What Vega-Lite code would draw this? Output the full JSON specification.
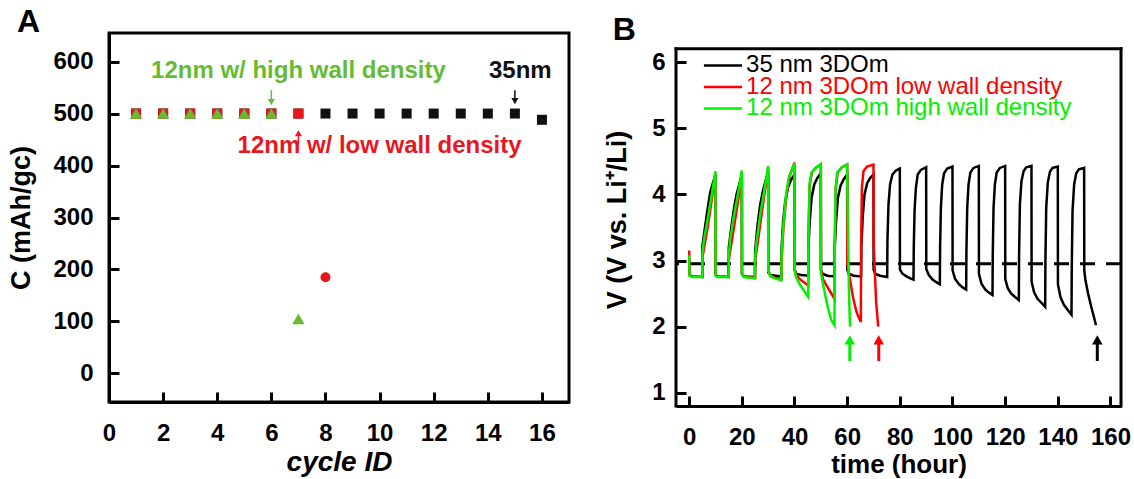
{
  "$schema": "https://vega.github.io/schema/vega-lite/v6.json",
  "padding": {"left": 6, "top": 4, "right": 4, "bottom": 2},
  "background": "white",
  "config": {
    "font": "Liberation Sans",
    "view": {"stroke": "#000", "strokeWidth": 3},
    "axis": {"domainColor": "#000", "domainWidth": 3, "tickColor": "#000", "tickWidth": 3, "labelFont": "Liberation Sans", "labelFontSize": 24, "labelFontWeight": "bold", "labelColor": "#000", "titleFont": "Liberation Sans", "titleFontWeight": "bold", "titleColor": "#000", "grid": false, "labelOverlap": false, "labelFlush": false, "labelBound": false},
    "title": {"font": "Liberation Sans", "fontWeight": "bold", "color": "#000", "fontSize": 32, "anchor": "start", "frame": "bounds"}
  },
  "datasets": {
    "cap": [
      {"sample": "35nm", "cycle": 1, "C": 500}, {"sample": "35nm", "cycle": 2, "C": 500}, {"sample": "35nm", "cycle": 3, "C": 500}, {"sample": "35nm", "cycle": 4, "C": 500},
      {"sample": "35nm", "cycle": 5, "C": 500}, {"sample": "35nm", "cycle": 6, "C": 500}, {"sample": "35nm", "cycle": 7, "C": 500}, {"sample": "35nm", "cycle": 8, "C": 500},
      {"sample": "35nm", "cycle": 9, "C": 500}, {"sample": "35nm", "cycle": 10, "C": 500}, {"sample": "35nm", "cycle": 11, "C": 500}, {"sample": "35nm", "cycle": 12, "C": 500},
      {"sample": "35nm", "cycle": 13, "C": 500}, {"sample": "35nm", "cycle": 14, "C": 500}, {"sample": "35nm", "cycle": 15, "C": 500}, {"sample": "35nm", "cycle": 16, "C": 488},
      {"sample": "12nm w/ low wall density", "cycle": 1, "C": 500}, {"sample": "12nm w/ low wall density", "cycle": 2, "C": 500}, {"sample": "12nm w/ low wall density", "cycle": 3, "C": 500},
      {"sample": "12nm w/ low wall density", "cycle": 4, "C": 500}, {"sample": "12nm w/ low wall density", "cycle": 5, "C": 500}, {"sample": "12nm w/ low wall density", "cycle": 6, "C": 500},
      {"sample": "12nm w/ low wall density", "cycle": 7, "C": 500}, {"sample": "12nm w/ low wall density", "cycle": 8, "C": 185},
      {"sample": "12nm w/ high wall density", "cycle": 1, "C": 500}, {"sample": "12nm w/ high wall density", "cycle": 2, "C": 500}, {"sample": "12nm w/ high wall density", "cycle": 3, "C": 500},
      {"sample": "12nm w/ high wall density", "cycle": 4, "C": 500}, {"sample": "12nm w/ high wall density", "cycle": 5, "C": 500}, {"sample": "12nm w/ high wall density", "cycle": 6, "C": 500},
      {"sample": "12nm w/ high wall density", "cycle": 7, "C": 105}
    ],
    "capArrows": [
      {"sample": "12nm w/ high wall density", "cycle": 6, "from": 545, "to": 522},
      {"sample": "35nm", "cycle": 15, "from": 545, "to": 524},
      {"sample": "12nm w/ low wall density", "cycle": 7, "from": 440, "to": 462}
    ],
    "capText": [
      {"sample": "12nm w/ high wall density", "cycle": 7.0, "C": 582, "label": "12nm w/ high wall density"},
      {"sample": "35nm", "cycle": 15.2, "C": 582, "label": "35nm"},
      {"sample": "12nm w/ low wall density", "cycle": 10.0, "C": 438, "label": "12nm w/ low wall density"}
    ],
    "ref": [{"V": 2.95}],
    "frameB": [
      {"x1": -5, "x2": 164, "y1": 6.2, "y2": 6.2},
      {"x1": 164, "x2": 164, "y1": 0.8, "y2": 6.2},
      {"x1": -5, "x2": -5, "y1": 0.8, "y2": 6.2}
    ],
    "legendB": [
      {"s": "35 nm 3DOm", "x1": 5.6, "x2": 20.1, "xt": 21.6, "V": 5.95},
      {"s": "12 nm 3DOm low wall density", "x1": 5.6, "x2": 20.1, "xt": 21.6, "V": 5.625},
      {"s": "12 nm 3DOm high wall density", "x1": 5.6, "x2": 20.1, "xt": 21.6, "V": 5.3}
    ],
    "voltArrows": [
      {"s": "12 nm 3DOm high wall density", "t": 61, "from": 1.48, "to": 1.8},
      {"s": "12 nm 3DOm low wall density", "t": 72, "from": 1.48, "to": 1.8},
      {"s": "35 nm 3DOm", "t": 155, "from": 1.48, "to": 1.8}
    ],
    "volt": [
      {"s": "35 nm 3DOm", "t": 0, "V": 3.0}, {"s": "35 nm 3DOm", "t": 0.15, "V": 2.78}, {"s": "35 nm 3DOm", "t": 1, "V": 2.76}, {"s": "35 nm 3DOm", "t": 5, "V": 2.75},
      {"s": "35 nm 3DOm", "t": 5.05, "V": 3.22}, {"s": "35 nm 3DOm", "t": 6, "V": 3.5}, {"s": "35 nm 3DOm", "t": 7, "V": 3.78}, {"s": "35 nm 3DOm", "t": 8, "V": 4.03}, {"s": "35 nm 3DOm", "t": 9, "V": 4.17}, {"s": "35 nm 3DOm", "t": 10, "V": 4.3},
      {"s": "35 nm 3DOm", "t": 10.05, "V": 2.8}, {"s": "35 nm 3DOm", "t": 10.5, "V": 2.76}, {"s": "35 nm 3DOm", "t": 15, "V": 2.75},
      {"s": "35 nm 3DOm", "t": 15.05, "V": 3.2}, {"s": "35 nm 3DOm", "t": 16, "V": 3.5}, {"s": "35 nm 3DOm", "t": 17, "V": 3.78}, {"s": "35 nm 3DOm", "t": 18, "V": 4.0}, {"s": "35 nm 3DOm", "t": 19, "V": 4.15}, {"s": "35 nm 3DOm", "t": 20, "V": 4.3},
      {"s": "35 nm 3DOm", "t": 20.05, "V": 2.8}, {"s": "35 nm 3DOm", "t": 20.6, "V": 2.76}, {"s": "35 nm 3DOm", "t": 25, "V": 2.75},
      {"s": "35 nm 3DOm", "t": 25.05, "V": 3.15}, {"s": "35 nm 3DOm", "t": 26, "V": 3.55}, {"s": "35 nm 3DOm", "t": 27, "V": 3.85}, {"s": "35 nm 3DOm", "t": 28, "V": 4.05}, {"s": "35 nm 3DOm", "t": 29, "V": 4.2}, {"s": "35 nm 3DOm", "t": 30, "V": 4.32},
      {"s": "35 nm 3DOm", "t": 30.05, "V": 2.82}, {"s": "35 nm 3DOm", "t": 31, "V": 2.78}, {"s": "35 nm 3DOm", "t": 35, "V": 2.76},
      {"s": "35 nm 3DOm", "t": 35.1, "V": 3.2}, {"s": "35 nm 3DOm", "t": 35.7, "V": 3.6}, {"s": "35 nm 3DOm", "t": 36.5, "V": 3.9}, {"s": "35 nm 3DOm", "t": 37.5, "V": 4.1}, {"s": "35 nm 3DOm", "t": 38.7, "V": 4.22}, {"s": "35 nm 3DOm", "t": 40, "V": 4.3},
      {"s": "35 nm 3DOm", "t": 40.05, "V": 2.86}, {"s": "35 nm 3DOm", "t": 40.6, "V": 2.8}, {"s": "35 nm 3DOm", "t": 42.5, "V": 2.78}, {"s": "35 nm 3DOm", "t": 45.2, "V": 2.77},
      {"s": "35 nm 3DOm", "t": 45.3, "V": 3.2}, {"s": "35 nm 3DOm", "t": 45.8, "V": 3.6}, {"s": "35 nm 3DOm", "t": 46.5, "V": 3.95}, {"s": "35 nm 3DOm", "t": 47.5, "V": 4.15}, {"s": "35 nm 3DOm", "t": 48.7, "V": 4.25}, {"s": "35 nm 3DOm", "t": 50, "V": 4.32},
      {"s": "35 nm 3DOm", "t": 50.05, "V": 2.86}, {"s": "35 nm 3DOm", "t": 50.6, "V": 2.8}, {"s": "35 nm 3DOm", "t": 52.5, "V": 2.77}, {"s": "35 nm 3DOm", "t": 55.2, "V": 2.76},
      {"s": "35 nm 3DOm", "t": 55.3, "V": 3.2}, {"s": "35 nm 3DOm", "t": 55.8, "V": 3.6}, {"s": "35 nm 3DOm", "t": 56.5, "V": 3.95}, {"s": "35 nm 3DOm", "t": 57.5, "V": 4.13}, {"s": "35 nm 3DOm", "t": 58.7, "V": 4.23}, {"s": "35 nm 3DOm", "t": 60, "V": 4.3},
      {"s": "35 nm 3DOm", "t": 60.05, "V": 2.86}, {"s": "35 nm 3DOm", "t": 60.6, "V": 2.8}, {"s": "35 nm 3DOm", "t": 62.5, "V": 2.77}, {"s": "35 nm 3DOm", "t": 65.3, "V": 2.76},
      {"s": "35 nm 3DOm", "t": 65.4, "V": 3.2}, {"s": "35 nm 3DOm", "t": 65.9, "V": 3.65}, {"s": "35 nm 3DOm", "t": 66.6, "V": 4.0}, {"s": "35 nm 3DOm", "t": 67.6, "V": 4.17}, {"s": "35 nm 3DOm", "t": 68.8, "V": 4.25}, {"s": "35 nm 3DOm", "t": 70, "V": 4.3},
      {"s": "35 nm 3DOm", "t": 70.05, "V": 2.86}, {"s": "35 nm 3DOm", "t": 70.6, "V": 2.8}, {"s": "35 nm 3DOm", "t": 72.5, "V": 2.77}, {"s": "35 nm 3DOm", "t": 75.2, "V": 2.75},
      {"s": "35 nm 3DOm", "t": 75.3, "V": 3.3}, {"s": "35 nm 3DOm", "t": 75.7, "V": 3.85}, {"s": "35 nm 3DOm", "t": 76.3, "V": 4.15}, {"s": "35 nm 3DOm", "t": 77.2, "V": 4.3}, {"s": "35 nm 3DOm", "t": 78.5, "V": 4.36}, {"s": "35 nm 3DOm", "t": 80, "V": 4.39},
      {"s": "35 nm 3DOm", "t": 80.05, "V": 2.86}, {"s": "35 nm 3DOm", "t": 81, "V": 2.8}, {"s": "35 nm 3DOm", "t": 82.5, "V": 2.76}, {"s": "35 nm 3DOm", "t": 84, "V": 2.73}, {"s": "35 nm 3DOm", "t": 85.2, "V": 2.71},
      {"s": "35 nm 3DOm", "t": 85.3, "V": 3.2}, {"s": "35 nm 3DOm", "t": 85.6, "V": 3.75}, {"s": "35 nm 3DOm", "t": 86.1, "V": 4.1}, {"s": "35 nm 3DOm", "t": 86.8, "V": 4.3}, {"s": "35 nm 3DOm", "t": 88, "V": 4.37}, {"s": "35 nm 3DOm", "t": 90, "V": 4.41},
      {"s": "35 nm 3DOm", "t": 90.05, "V": 2.87}, {"s": "35 nm 3DOm", "t": 91, "V": 2.78}, {"s": "35 nm 3DOm", "t": 92.5, "V": 2.71}, {"s": "35 nm 3DOm", "t": 94, "V": 2.67}, {"s": "35 nm 3DOm", "t": 95.2, "V": 2.64},
      {"s": "35 nm 3DOm", "t": 95.3, "V": 3.2}, {"s": "35 nm 3DOm", "t": 95.6, "V": 3.8}, {"s": "35 nm 3DOm", "t": 96.1, "V": 4.15}, {"s": "35 nm 3DOm", "t": 96.8, "V": 4.32}, {"s": "35 nm 3DOm", "t": 98, "V": 4.39}, {"s": "35 nm 3DOm", "t": 100, "V": 4.42},
      {"s": "35 nm 3DOm", "t": 100.05, "V": 2.85}, {"s": "35 nm 3DOm", "t": 101, "V": 2.72}, {"s": "35 nm 3DOm", "t": 102.5, "V": 2.64}, {"s": "35 nm 3DOm", "t": 104, "V": 2.59}, {"s": "35 nm 3DOm", "t": 105.2, "V": 2.56},
      {"s": "35 nm 3DOm", "t": 105.3, "V": 3.15}, {"s": "35 nm 3DOm", "t": 105.6, "V": 3.8}, {"s": "35 nm 3DOm", "t": 106.1, "V": 4.15}, {"s": "35 nm 3DOm", "t": 106.8, "V": 4.33}, {"s": "35 nm 3DOm", "t": 108, "V": 4.4}, {"s": "35 nm 3DOm", "t": 110, "V": 4.43},
      {"s": "35 nm 3DOm", "t": 110.05, "V": 2.8}, {"s": "35 nm 3DOm", "t": 111, "V": 2.65}, {"s": "35 nm 3DOm", "t": 112.5, "V": 2.56}, {"s": "35 nm 3DOm", "t": 114, "V": 2.51}, {"s": "35 nm 3DOm", "t": 115.2, "V": 2.48},
      {"s": "35 nm 3DOm", "t": 115.3, "V": 3.1}, {"s": "35 nm 3DOm", "t": 115.6, "V": 3.8}, {"s": "35 nm 3DOm", "t": 116.1, "V": 4.15}, {"s": "35 nm 3DOm", "t": 116.8, "V": 4.33}, {"s": "35 nm 3DOm", "t": 118, "V": 4.4}, {"s": "35 nm 3DOm", "t": 120, "V": 4.43},
      {"s": "35 nm 3DOm", "t": 120.05, "V": 2.72}, {"s": "35 nm 3DOm", "t": 121, "V": 2.58}, {"s": "35 nm 3DOm", "t": 122.3, "V": 2.5}, {"s": "35 nm 3DOm", "t": 124, "V": 2.44}, {"s": "35 nm 3DOm", "t": 125.2, "V": 2.4},
      {"s": "35 nm 3DOm", "t": 125.3, "V": 3.1}, {"s": "35 nm 3DOm", "t": 125.6, "V": 3.85}, {"s": "35 nm 3DOm", "t": 126.2, "V": 4.2}, {"s": "35 nm 3DOm", "t": 127, "V": 4.35}, {"s": "35 nm 3DOm", "t": 128, "V": 4.41}, {"s": "35 nm 3DOm", "t": 130, "V": 4.43},
      {"s": "35 nm 3DOm", "t": 130.05, "V": 2.68}, {"s": "35 nm 3DOm", "t": 131, "V": 2.52}, {"s": "35 nm 3DOm", "t": 132.3, "V": 2.42}, {"s": "35 nm 3DOm", "t": 134, "V": 2.35}, {"s": "35 nm 3DOm", "t": 135.2, "V": 2.3},
      {"s": "35 nm 3DOm", "t": 135.3, "V": 3.0}, {"s": "35 nm 3DOm", "t": 135.6, "V": 3.8}, {"s": "35 nm 3DOm", "t": 136.2, "V": 4.18}, {"s": "35 nm 3DOm", "t": 137, "V": 4.34}, {"s": "35 nm 3DOm", "t": 138, "V": 4.4}, {"s": "35 nm 3DOm", "t": 140, "V": 4.42},
      {"s": "35 nm 3DOm", "t": 140.05, "V": 2.64}, {"s": "35 nm 3DOm", "t": 141, "V": 2.45}, {"s": "35 nm 3DOm", "t": 142.3, "V": 2.33}, {"s": "35 nm 3DOm", "t": 144, "V": 2.24}, {"s": "35 nm 3DOm", "t": 145.2, "V": 2.18},
      {"s": "35 nm 3DOm", "t": 145.3, "V": 2.9}, {"s": "35 nm 3DOm", "t": 145.6, "V": 3.75}, {"s": "35 nm 3DOm", "t": 146.2, "V": 4.15}, {"s": "35 nm 3DOm", "t": 147, "V": 4.32}, {"s": "35 nm 3DOm", "t": 148, "V": 4.38}, {"s": "35 nm 3DOm", "t": 150, "V": 4.4},
      {"s": "35 nm 3DOm", "t": 150.05, "V": 2.85}, {"s": "35 nm 3DOm", "t": 150.5, "V": 2.7}, {"s": "35 nm 3DOm", "t": 151.5, "V": 2.5}, {"s": "35 nm 3DOm", "t": 152.7, "V": 2.3}, {"s": "35 nm 3DOm", "t": 153.7, "V": 2.15}, {"s": "35 nm 3DOm", "t": 154.5, "V": 2.02},

      {"s": "12 nm 3DOm low wall density", "t": 0, "V": 3.15}, {"s": "12 nm 3DOm low wall density", "t": 0.15, "V": 2.78}, {"s": "12 nm 3DOm low wall density", "t": 1, "V": 2.76}, {"s": "12 nm 3DOm low wall density", "t": 5, "V": 2.75},
      {"s": "12 nm 3DOm low wall density", "t": 5.05, "V": 3.05}, {"s": "12 nm 3DOm low wall density", "t": 5.5, "V": 3.15}, {"s": "12 nm 3DOm low wall density", "t": 7, "V": 3.5}, {"s": "12 nm 3DOm low wall density", "t": 8.5, "V": 3.9}, {"s": "12 nm 3DOm low wall density", "t": 10, "V": 4.3},
      {"s": "12 nm 3DOm low wall density", "t": 10.05, "V": 2.78}, {"s": "12 nm 3DOm low wall density", "t": 10.5, "V": 2.76}, {"s": "12 nm 3DOm low wall density", "t": 15, "V": 2.75},
      {"s": "12 nm 3DOm low wall density", "t": 15.05, "V": 3.0}, {"s": "12 nm 3DOm low wall density", "t": 15.6, "V": 3.15}, {"s": "12 nm 3DOm low wall density", "t": 17, "V": 3.5}, {"s": "12 nm 3DOm low wall density", "t": 18.5, "V": 3.88}, {"s": "12 nm 3DOm low wall density", "t": 20, "V": 4.3},
      {"s": "12 nm 3DOm low wall density", "t": 20.05, "V": 2.8}, {"s": "12 nm 3DOm low wall density", "t": 20.8, "V": 2.76}, {"s": "12 nm 3DOm low wall density", "t": 25, "V": 2.74},
      {"s": "12 nm 3DOm low wall density", "t": 25.05, "V": 3.0}, {"s": "12 nm 3DOm low wall density", "t": 25.6, "V": 3.15}, {"s": "12 nm 3DOm low wall density", "t": 27, "V": 3.55}, {"s": "12 nm 3DOm low wall density", "t": 28.5, "V": 3.98}, {"s": "12 nm 3DOm low wall density", "t": 30, "V": 4.4},
      {"s": "12 nm 3DOm low wall density", "t": 30.05, "V": 2.85}, {"s": "12 nm 3DOm low wall density", "t": 30.8, "V": 2.77}, {"s": "12 nm 3DOm low wall density", "t": 32.5, "V": 2.74}, {"s": "12 nm 3DOm low wall density", "t": 35, "V": 2.72},
      {"s": "12 nm 3DOm low wall density", "t": 35.1, "V": 3.0}, {"s": "12 nm 3DOm low wall density", "t": 35.8, "V": 3.5}, {"s": "12 nm 3DOm low wall density", "t": 37, "V": 4.0}, {"s": "12 nm 3DOm low wall density", "t": 38.3, "V": 4.3}, {"s": "12 nm 3DOm low wall density", "t": 40, "V": 4.48},
      {"s": "12 nm 3DOm low wall density", "t": 40.05, "V": 2.86}, {"s": "12 nm 3DOm low wall density", "t": 40.8, "V": 2.77}, {"s": "12 nm 3DOm low wall density", "t": 42.5, "V": 2.7}, {"s": "12 nm 3DOm low wall density", "t": 44, "V": 2.66}, {"s": "12 nm 3DOm low wall density", "t": 45.2, "V": 2.62},
      {"s": "12 nm 3DOm low wall density", "t": 45.3, "V": 3.4}, {"s": "12 nm 3DOm low wall density", "t": 45.8, "V": 4.15}, {"s": "12 nm 3DOm low wall density", "t": 46.6, "V": 4.33}, {"s": "12 nm 3DOm low wall density", "t": 48, "V": 4.4}, {"s": "12 nm 3DOm low wall density", "t": 50, "V": 4.45},
      {"s": "12 nm 3DOm low wall density", "t": 50.05, "V": 2.86}, {"s": "12 nm 3DOm low wall density", "t": 50.8, "V": 2.72}, {"s": "12 nm 3DOm low wall density", "t": 52.2, "V": 2.62}, {"s": "12 nm 3DOm low wall density", "t": 53.7, "V": 2.52}, {"s": "12 nm 3DOm low wall density", "t": 55.2, "V": 2.42},
      {"s": "12 nm 3DOm low wall density", "t": 55.3, "V": 3.3}, {"s": "12 nm 3DOm low wall density", "t": 55.7, "V": 4.1}, {"s": "12 nm 3DOm low wall density", "t": 56.4, "V": 4.33}, {"s": "12 nm 3DOm low wall density", "t": 58, "V": 4.41}, {"s": "12 nm 3DOm low wall density", "t": 60, "V": 4.45},
      {"s": "12 nm 3DOm low wall density", "t": 60.05, "V": 2.95}, {"s": "12 nm 3DOm low wall density", "t": 61, "V": 2.73}, {"s": "12 nm 3DOm low wall density", "t": 62.3, "V": 2.43}, {"s": "12 nm 3DOm low wall density", "t": 63.5, "V": 2.23}, {"s": "12 nm 3DOm low wall density", "t": 64.5, "V": 2.13}, {"s": "12 nm 3DOm low wall density", "t": 65.2, "V": 2.07},
      {"s": "12 nm 3DOm low wall density", "t": 65.3, "V": 3.2}, {"s": "12 nm 3DOm low wall density", "t": 65.6, "V": 4.1}, {"s": "12 nm 3DOm low wall density", "t": 66.2, "V": 4.35}, {"s": "12 nm 3DOm low wall density", "t": 67.5, "V": 4.42}, {"s": "12 nm 3DOm low wall density", "t": 70, "V": 4.45},
      {"s": "12 nm 3DOm low wall density", "t": 70.05, "V": 3.3}, {"s": "12 nm 3DOm low wall density", "t": 70.4, "V": 2.93}, {"s": "12 nm 3DOm low wall density", "t": 71, "V": 2.38}, {"s": "12 nm 3DOm low wall density", "t": 71.8, "V": 2.0},

      {"s": "12 nm 3DOm high wall density", "t": 0, "V": 3.08}, {"s": "12 nm 3DOm high wall density", "t": 0.15, "V": 2.77}, {"s": "12 nm 3DOm high wall density", "t": 1, "V": 2.75}, {"s": "12 nm 3DOm high wall density", "t": 5, "V": 2.75},
      {"s": "12 nm 3DOm high wall density", "t": 5.05, "V": 3.1}, {"s": "12 nm 3DOm high wall density", "t": 5.5, "V": 3.28}, {"s": "12 nm 3DOm high wall density", "t": 7, "V": 3.62}, {"s": "12 nm 3DOm high wall density", "t": 8.5, "V": 3.98}, {"s": "12 nm 3DOm high wall density", "t": 10, "V": 4.35},
      {"s": "12 nm 3DOm high wall density", "t": 10.05, "V": 2.77}, {"s": "12 nm 3DOm high wall density", "t": 10.5, "V": 2.75}, {"s": "12 nm 3DOm high wall density", "t": 15, "V": 2.75},
      {"s": "12 nm 3DOm high wall density", "t": 15.05, "V": 3.05}, {"s": "12 nm 3DOm high wall density", "t": 15.5, "V": 3.3}, {"s": "12 nm 3DOm high wall density", "t": 17, "V": 3.68}, {"s": "12 nm 3DOm high wall density", "t": 18.5, "V": 4.0}, {"s": "12 nm 3DOm high wall density", "t": 20, "V": 4.36},
      {"s": "12 nm 3DOm high wall density", "t": 20.05, "V": 2.8}, {"s": "12 nm 3DOm high wall density", "t": 20.8, "V": 2.75}, {"s": "12 nm 3DOm high wall density", "t": 25, "V": 2.73},
      {"s": "12 nm 3DOm high wall density", "t": 25.05, "V": 3.05}, {"s": "12 nm 3DOm high wall density", "t": 25.5, "V": 3.26}, {"s": "12 nm 3DOm high wall density", "t": 27, "V": 3.7}, {"s": "12 nm 3DOm high wall density", "t": 28.5, "V": 4.05}, {"s": "12 nm 3DOm high wall density", "t": 30, "V": 4.43},
      {"s": "12 nm 3DOm high wall density", "t": 30.05, "V": 2.85}, {"s": "12 nm 3DOm high wall density", "t": 30.8, "V": 2.76}, {"s": "12 nm 3DOm high wall density", "t": 32.5, "V": 2.73}, {"s": "12 nm 3DOm high wall density", "t": 35, "V": 2.7},
      {"s": "12 nm 3DOm high wall density", "t": 35.1, "V": 3.1}, {"s": "12 nm 3DOm high wall density", "t": 35.7, "V": 3.5}, {"s": "12 nm 3DOm high wall density", "t": 36.8, "V": 4.0}, {"s": "12 nm 3DOm high wall density", "t": 37.8, "V": 4.25}, {"s": "12 nm 3DOm high wall density", "t": 39, "V": 4.37}, {"s": "12 nm 3DOm high wall density", "t": 40, "V": 4.47},
      {"s": "12 nm 3DOm high wall density", "t": 40.05, "V": 2.86}, {"s": "12 nm 3DOm high wall density", "t": 40.6, "V": 2.75}, {"s": "12 nm 3DOm high wall density", "t": 42, "V": 2.64}, {"s": "12 nm 3DOm high wall density", "t": 43.5, "V": 2.55}, {"s": "12 nm 3DOm high wall density", "t": 45.2, "V": 2.45},
      {"s": "12 nm 3DOm high wall density", "t": 45.3, "V": 3.3}, {"s": "12 nm 3DOm high wall density", "t": 45.7, "V": 4.15}, {"s": "12 nm 3DOm high wall density", "t": 46.5, "V": 4.33}, {"s": "12 nm 3DOm high wall density", "t": 48, "V": 4.4}, {"s": "12 nm 3DOm high wall density", "t": 50, "V": 4.46},
      {"s": "12 nm 3DOm high wall density", "t": 50.05, "V": 2.8}, {"s": "12 nm 3DOm high wall density", "t": 51.4, "V": 2.53}, {"s": "12 nm 3DOm high wall density", "t": 52.7, "V": 2.28}, {"s": "12 nm 3DOm high wall density", "t": 54, "V": 2.1}, {"s": "12 nm 3DOm high wall density", "t": 55.2, "V": 2.02},
      {"s": "12 nm 3DOm high wall density", "t": 55.3, "V": 3.2}, {"s": "12 nm 3DOm high wall density", "t": 55.6, "V": 4.1}, {"s": "12 nm 3DOm high wall density", "t": 56.2, "V": 4.33}, {"s": "12 nm 3DOm high wall density", "t": 58, "V": 4.41}, {"s": "12 nm 3DOm high wall density", "t": 60, "V": 4.45},
      {"s": "12 nm 3DOm high wall density", "t": 60.05, "V": 4.2}, {"s": "12 nm 3DOm high wall density", "t": 60.4, "V": 3.2}, {"s": "12 nm 3DOm high wall density", "t": 60.7, "V": 2.5}, {"s": "12 nm 3DOm high wall density", "t": 61.1, "V": 2.0}
    ]
  },
  "resolve": {"scale": {"color": "independent", "shape": "independent", "size": "independent"}, "legend": {"color": "independent", "shape": "independent", "size": "independent"}},
  "spacing": 32,
  "hconcat": [
    {
      "width": 460,
      "height": 369,
      "title": {"text": "A", "offset": -6, "dx": 9},
      "layer": [
        {
          "data": {"name": "cap"},
          "mark": {"type": "point", "filled": true, "opacity": 1, "strokeWidth": 0},
          "encoding": {
            "x": {"field": "cycle", "type": "quantitative", "scale": {"domain": [0, 17], "nice": false, "zero": false},
              "axis": {"title": "cycle ID", "titleFontStyle": "italic", "titleFontSize": 28, "titlePadding": 3,
                "values": [0, 1, 2, 3, 4, 5, 6, 7, 8, 9, 10, 11, 12, 13, 14, 15, 16],
                "labelExpr": "datum.value % 2 === 0 ? datum.label : ''",
                "tickSize": {"condition": {"test": "datum.value % 2 === 0", "value": -10}, "value": -5},
                "labelPadding": 29}},
            "y": {"field": "C", "type": "quantitative", "scale": {"domain": [-55, 655], "nice": false, "zero": false},
              "axis": {"title": "C (mAh/gᴄ)", "titleFontSize": 27, "titlePadding": 17,
                "values": [0, 50, 100, 150, 200, 250, 300, 350, 400, 450, 500, 550, 600],
                "labelExpr": "datum.value % 100 === 0 ? datum.label : ''",
                "tickSize": {"condition": {"test": "datum.value % 100 === 0", "value": -10}, "value": -5},
                "labelPadding": 26}},
            "color": {"field": "sample", "type": "nominal", "legend": null,
              "scale": {"domain": ["35nm", "12nm w/ low wall density", "12nm w/ high wall density"], "range": ["#111111", "#E8161E", "#66BB33"]}},
            "shape": {"field": "sample", "type": "nominal", "legend": null,
              "condition": {"test": "datum.sample === '12nm w/ low wall density' && datum.cycle === 8", "value": "circle"},
              "scale": {"domain": ["35nm", "12nm w/ low wall density", "12nm w/ high wall density"], "range": ["square", "square", "triangle-up"]}},
            "size": {"condition": {"test": "datum.sample === '12nm w/ high wall density'", "value": 150}, "value": 100}
          }
        },
        {
          "data": {"name": "capArrows"},
          "mark": {"type": "rule", "strokeWidth": 1.5},
          "encoding": {
            "x": {"field": "cycle", "type": "quantitative"},
            "y": {"field": "from", "type": "quantitative"},
            "y2": {"field": "to"},
            "color": {"field": "sample", "type": "nominal", "legend": null}
          }
        },
        {
          "data": {"name": "capArrows"},
          "mark": {"type": "point", "filled": true, "opacity": 1, "size": 50, "strokeWidth": 0},
          "encoding": {
            "x": {"field": "cycle", "type": "quantitative"},
            "y": {"field": "to", "type": "quantitative"},
            "shape": {"condition": {"test": "datum.to < datum.from", "value": "triangle-down"}, "value": "triangle-up"},
            "color": {"field": "sample", "type": "nominal", "legend": null}
          }
        },
        {
          "data": {"name": "capText"},
          "mark": {"type": "text", "fontSize": 24, "fontWeight": "bold", "font": "Liberation Sans", "align": "center", "baseline": "middle"},
          "encoding": {
            "x": {"field": "cycle", "type": "quantitative"},
            "y": {"field": "C", "type": "quantitative"},
            "text": {"field": "label"},
            "color": {"field": "sample", "type": "nominal", "legend": null}
          }
        }
      ]
    },
    {
      "width": 445,
      "height": 373,
      "view": {"stroke": null},
      "title": {"text": "B", "offset": -14, "dx": 9},
      "layer": [
        {
          "data": {"name": "ref"},
          "mark": {"type": "rule", "strokeDash": [15, 11], "strokeWidth": 3, "color": "#000"},
          "encoding": {
            "y": {"field": "V", "type": "quantitative", "scale": {"domain": [0.8, 6.44], "nice": false, "zero": false}}
          }
        },
        {
          "data": {"name": "volt"},
          "mark": {"type": "line", "strokeWidth": 2.5, "clip": true},
          "encoding": {
            "x": {"field": "t", "type": "quantitative", "scale": {"domain": [-5, 164], "nice": false, "zero": false},
              "axis": {"title": "time (hour)", "titleFontSize": 26, "titlePadding": 2,
                "values": [0, 10, 20, 30, 40, 50, 60, 70, 80, 90, 100, 110, 120, 130, 140, 150, 160],
                "labelExpr": "datum.value % 20 === 0 ? datum.label : ''",
                "tickSize": {"condition": {"test": "datum.value % 20 === 0", "value": -10}, "value": -5},
                "labelPadding": 29}},
            "y": {"field": "V", "type": "quantitative", "scale": {"domain": [0.8, 6.44], "nice": false, "zero": false},
              "axis": {"title": "V (V vs. Li⁺/Li)", "titleFontSize": 27, "titlePadding": 20, "format": ".0f", "domain": false,
                "values": [1, 1.5, 2, 2.5, 3, 3.5, 4, 4.5, 5, 5.5, 6],
                "labelExpr": "datum.value % 1 === 0 ? datum.label : ''",
                "tickSize": {"condition": {"test": "datum.value % 1 === 0", "value": -10}, "value": -5},
                "labelPadding": 21}},
            "color": {"field": "s", "type": "nominal", "legend": null,
              "scale": {"domain": ["35 nm 3DOm", "12 nm 3DOm low wall density", "12 nm 3DOm high wall density"], "range": ["#000000", "#FF0000", "#00F000"]}}
          }
        },
        {
          "data": {"name": "voltArrows"},
          "mark": {"type": "rule", "strokeWidth": 3},
          "encoding": {
            "x": {"field": "t", "type": "quantitative"},
            "y": {"field": "from", "type": "quantitative"},
            "y2": {"field": "to"},
            "color": {"field": "s", "type": "nominal", "legend": null}
          }
        },
        {
          "data": {"name": "voltArrows"},
          "mark": {"type": "point", "shape": "triangle-up", "filled": true, "opacity": 1, "size": 110, "strokeWidth": 0},
          "encoding": {
            "x": {"field": "t", "type": "quantitative"},
            "y": {"field": "to", "type": "quantitative"},
            "color": {"field": "s", "type": "nominal", "legend": null}
          }
        },
        {
          "data": {"name": "legendB"},
          "mark": {"type": "rule", "strokeWidth": 2.5},
          "encoding": {
            "x": {"field": "x1", "type": "quantitative"},
            "x2": {"field": "x2"},
            "y": {"field": "V", "type": "quantitative"},
            "color": {"field": "s", "type": "nominal", "legend": null}
          }
        },
        {
          "data": {"name": "legendB"},
          "mark": {"type": "text", "fontSize": 24, "font": "Liberation Sans", "align": "left", "baseline": "middle"},
          "encoding": {
            "x": {"field": "xt", "type": "quantitative"},
            "y": {"field": "V", "type": "quantitative"},
            "text": {"field": "s"},
            "color": {"field": "s", "type": "nominal", "legend": null}
          }
        },
        {
          "data": {"name": "frameB"},
          "mark": {"type": "rule", "strokeWidth": 3, "color": "#000", "strokeCap": "square"},
          "encoding": {
            "x": {"field": "x1", "type": "quantitative"},
            "x2": {"field": "x2"},
            "y": {"field": "y1", "type": "quantitative"},
            "y2": {"field": "y2"}
          }
        }
      ]
    }
  ]
}
